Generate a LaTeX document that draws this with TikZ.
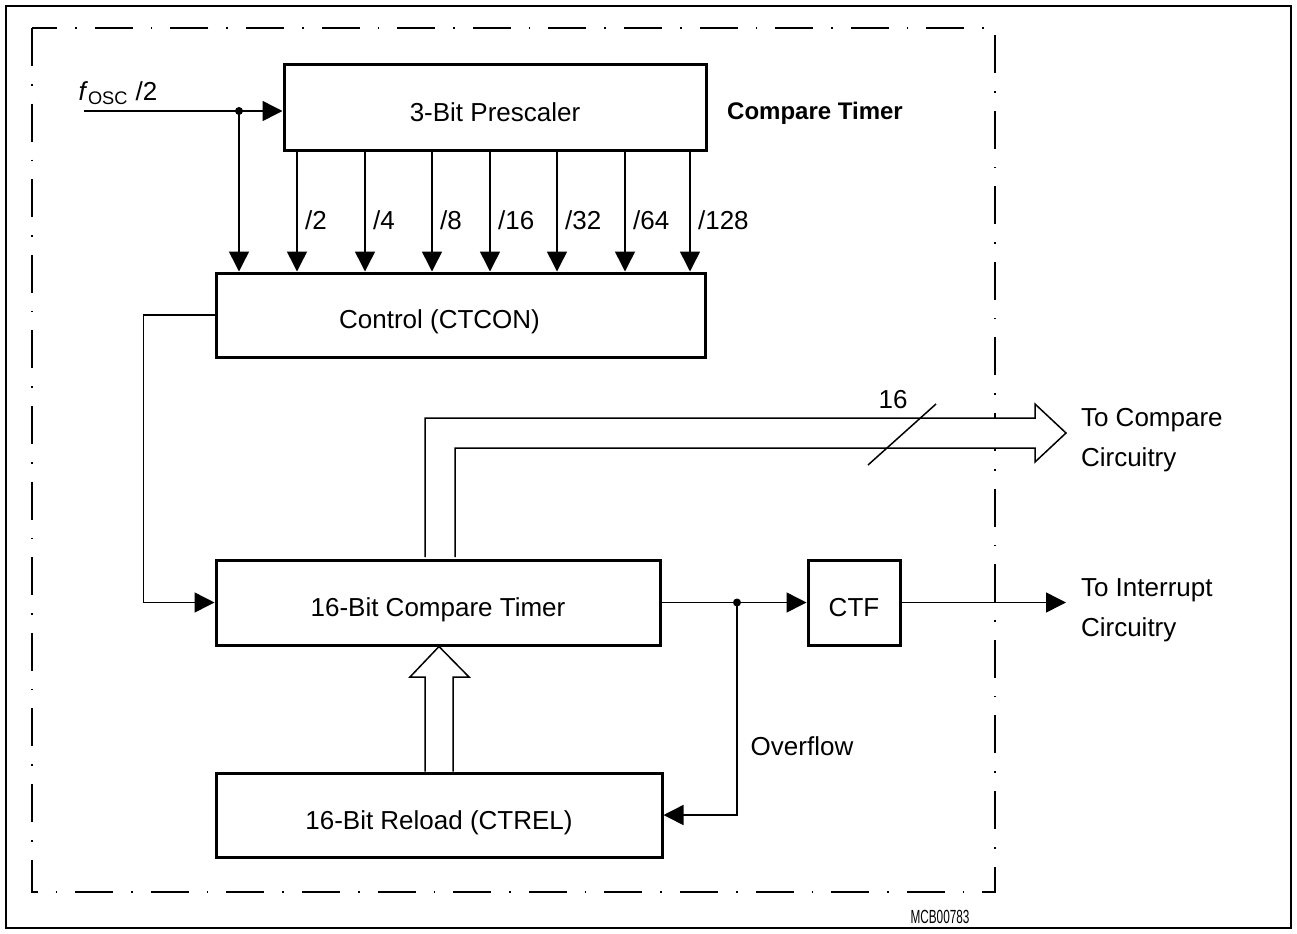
\documentclass[tikz,border=0pt]{standalone}
\usepackage{fontspec}
\setmainfont{Liberation Sans}
\usepackage{graphicx}
\usetikzlibrary{arrows.meta,calc}
\tikzset{
  >={Triangle[length=10pt,width=10pt]},
  blk/.style={draw, line width=1.5pt, inner sep=0pt, text height=14pt, text depth=0pt},
  wire/.style={line width=0.75pt},
  bus/.style={draw, line width=0.75pt, fill=white, line join=miter},
  frame/.style={line width=1pt, dash pattern=on 19pt off 9pt on 0.8pt off 9pt},
}

\begin{document}
\begin{tikzpicture}[
  x=0.5pt, y=-0.5pt,
  every node/.style={font=\fontsize{13}{20}\selectfont}
]
\useasboundingbox (0,0) rectangle (1297,933);
\draw[line width=1pt] (6,6) rectangle (1291,928);
\draw[frame] (32,28) rectangle (995,892);

% blocks
\node[blk, minimum width=211pt, minimum height=43pt] (pre) at (495,107) {3-Bit Prescaler};
\node[blk, minimum width=244.5pt, minimum height=42pt] (ctl) at (460.5,315) {};
\node (ctltxt) at ($(ctl.center)+(-21,7)$) {Control (CTCON)};
\node[blk, minimum width=222pt, minimum height=42.5pt] (cmp) at (438,602.5) {16-Bit Compare Timer};
\node[blk, minimum width=46pt, minimum height=42.5pt] (ctf) at (854,602.5) {CTF};
\node[blk, minimum width=223pt, minimum height=42pt] (rld) at (439,815) {16-Bit Reload (CTREL)};
\node[font=\fontsize{12}{14}\selectfont\bfseries] (ttl) at (815,113) {Compare Timer};

% clock input
\coordinate (in) at (84,111);
\coordinate (j1) at (239,111);
\node (fosc) at (118,93) {\textit{f}\textsubscript{OSC} /2};
\draw[wire] (in) -- (j1);
\draw[wire,->] (j1) -- (pre.west |- j1);
\draw[wire,->] (j1) -- (j1 |- ctl.north);
\fill (j1) circle (2pt);

% prescaler taps
\foreach \x/\d in {297/2,365/4,432/8,490/16,557/32,625/64,690/128}{
  \draw[wire,->] (pre.south -| \x,0) -- (ctl.north -| \x,0);
  \node[anchor=west] (div\d) at (\x+1,220) {/\d};
}

% control to timer
\draw[wire,->] (ctl.west) -- ++(-71,0) |- (cmp.west);

% 16 bit bus out
\draw[bus] ([yshift=0.75pt]cmp.north -| 425,0) -- (425,418) -- (1035,418) -- (1035,404)
  -- (1066,433) -- (1035,462) -- (1035,448) -- (455,448) -- ([yshift=0.75pt]cmp.north -| 455,0);
\draw[wire] (868,465) -- (936,404);
\node (w16) at (893,400) {16};
\node[anchor=west, align=left] (cmplbl) at (1074,440) {To Compare\\Circuitry};

% overflow
\coordinate (j2) at (cmp.east -| 737,0);
\coordinate (intend) at (1066,602.5);
\draw[wire] (cmp.east) -- (j2);
\draw[wire,->] (j2) -- (ctf.west);
\draw[wire,->] (ctf.east) -- (intend);
\draw[wire,->] (j2) |- (rld.east);
\fill (j2) circle (2pt);
\node (ovf) at (802,746) {Overflow};
\node[anchor=west, align=left] (intlbl) at (1074,610) {To Interrupt\\Circuitry};

% reload bus
\draw[wire, line join=miter] (rld.north -| 425,0) -- (425,677) -- (410,677) -- (cmp.south -| 439,0)
  -- (469,677) -- (453,677) -- (rld.north -| 453,0);

\node (mcb) at (940,917) {\scalebox{0.62}[1]{\fontsize{9.5}{10}\selectfont MCB00783}};
\end{tikzpicture}
\end{document}
